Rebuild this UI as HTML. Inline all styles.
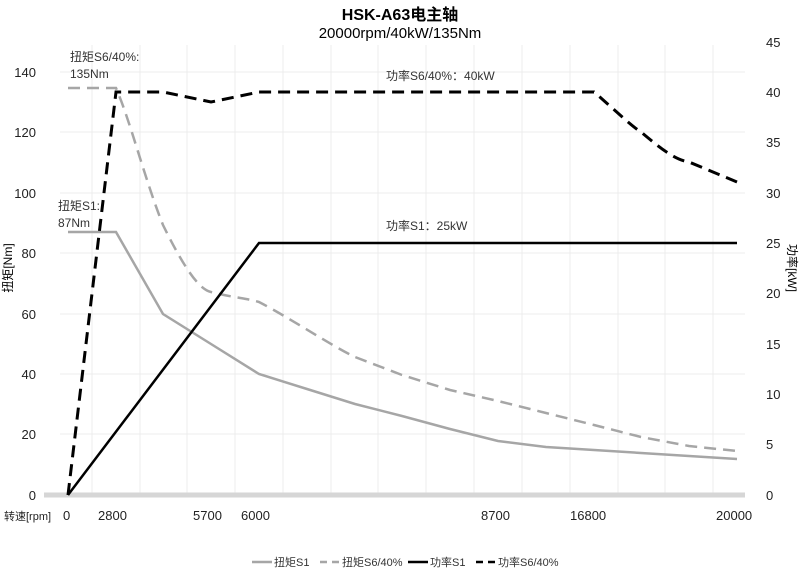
<!DOCTYPE html><html><head><meta charset="utf-8"><style>body{margin:0;background:#fff}svg{display:block;font-family:"Liberation Sans","Noto Sans CJK SC",sans-serif}</style></head><body>
<svg width="800" height="570" viewBox="0 0 800 570">
<g stroke="#ececec" stroke-width="1">
<line x1="60" y1="72" x2="745" y2="72"/><line x1="60" y1="132" x2="745" y2="132"/><line x1="60" y1="193" x2="745" y2="193"/><line x1="60" y1="253" x2="745" y2="253"/><line x1="60" y1="314" x2="745" y2="314"/><line x1="60" y1="374" x2="745" y2="374"/><line x1="60" y1="434" x2="745" y2="434"/>
<line x1="92" y1="45" x2="92" y2="495"/><line x1="140" y1="45" x2="140" y2="495"/><line x1="187" y1="45" x2="187" y2="495"/><line x1="235" y1="45" x2="235" y2="495"/><line x1="283" y1="45" x2="283" y2="495"/><line x1="331" y1="45" x2="331" y2="495"/><line x1="378" y1="45" x2="378" y2="495"/><line x1="426" y1="45" x2="426" y2="495"/><line x1="474" y1="45" x2="474" y2="495"/><line x1="522" y1="45" x2="522" y2="495"/><line x1="570" y1="45" x2="570" y2="495"/><line x1="618" y1="45" x2="618" y2="495"/><line x1="665" y1="45" x2="665" y2="495"/><line x1="713" y1="45" x2="713" y2="495"/>
</g>
<line x1="44" y1="495" x2="745" y2="495" stroke="#d6d6d6" stroke-width="5"/>
<text x="400" y="20" text-anchor="middle" font-size="16" font-weight="bold">HSK-A63电主轴</text>
<text x="400" y="38" text-anchor="middle" font-size="15">20000rpm/40kW/135Nm</text>
<g font-size="13" text-anchor="end" fill="#222">
<text x="36" y="77">140</text><text x="36" y="137">120</text><text x="36" y="198">100</text><text x="36" y="258">80</text><text x="36" y="319">60</text><text x="36" y="379">40</text><text x="36" y="439">20</text><text x="36" y="500">0</text></g>
<g font-size="13" fill="#222">
<text x="766" y="47">45</text><text x="766" y="97">40</text><text x="766" y="147">35</text><text x="766" y="198">30</text><text x="766" y="248">25</text><text x="766" y="298">20</text><text x="766" y="349">15</text><text x="766" y="399">10</text><text x="766" y="449">5</text><text x="766" y="500">0</text></g>
<text transform="translate(12,268) rotate(-90)" font-size="12" text-anchor="middle">扭矩[Nm]</text>
<text transform="translate(788,268) rotate(90)" font-size="12" text-anchor="middle">功率[kW]</text>
<g font-size="13" fill="#222"><text x="4" y="520" font-size="11">转速[rpm]</text><text x="63" y="520">0</text><text x="98" y="520">2800</text><text x="193" y="520">5700</text><text x="241" y="520">6000</text><text x="481" y="520">8700</text><text x="570" y="520">16800</text><text x="716" y="520">20000</text></g>
<g font-size="12" fill="#333"><text x="70" y="61">扭矩S6/40%:</text><text x="70" y="78">135Nm</text><text x="58" y="210">扭矩S1:</text><text x="58" y="227">87Nm</text><text x="386" y="80">功率S6/40%：40kW</text><text x="386" y="230">功率S1：25kW</text></g>
<g fill="none" stroke-width="2.5">
<polyline stroke="#a6a6a6" points="68,232 116,232 163,314 211,344 259,374 307,389 355,404 402,416 450,429 498,441 546,447 594,450 641,453 689,456 737,459"/>
<path stroke="#a6a6a6" stroke-dasharray="12,7" d="M68,88 L116,88 C130,120 145,180 163,225 C185,270 200,290 211,292 C235,298 245,298 259,302 C290,318 330,345 355,357 L402,375 L450,390 L498,401 L546,413 L594,425 L641,437 L689,446 L737,451"/>
<polyline stroke="#000" points="68,495 259,243 737,243"/>
<path stroke="#000" stroke-width="3" stroke-dasharray="12,7" d="M68,495 L116,92 L163,92 L211,102 L259,92 L594,92 C615,110 630,125 641,132 C660,148 675,160 689,162 L737,182"/>
</g>
<g font-size="11" fill="#333" stroke-width="2.5">
<line x1="252" y1="562" x2="272" y2="562" stroke="#a6a6a6"/><text x="274" y="566">扭矩S1</text>
<line x1="320" y1="562" x2="340" y2="562" stroke="#a6a6a6" stroke-dasharray="7,5"/><text x="342" y="566">扭矩S6/40%</text>
<line x1="408" y1="562" x2="428" y2="562" stroke="#000"/><text x="430" y="566">功率S1</text>
<line x1="476" y1="562" x2="496" y2="562" stroke="#000" stroke-dasharray="7,5"/><text x="498" y="566">功率S6/40%</text>
</g>
</svg></body></html>
